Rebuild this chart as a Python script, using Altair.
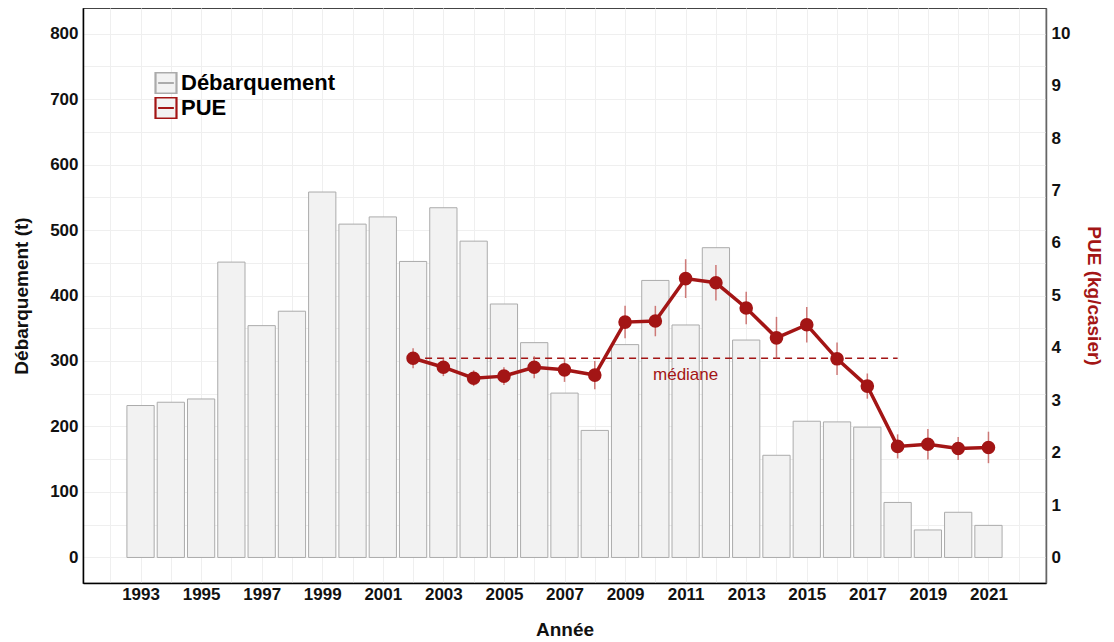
import altair as alt
import pandas as pd

years = list(range(1993, 2022))
landings = [232, 237, 242, 451, 354, 376, 558, 509, 520, 452, 534, 483, 387, 328,
            251, 194, 325, 423, 355, 473, 332, 156, 208, 207, 199, 84, 42, 69, 49]

pue_years = list(range(2002, 2022))
pue = [3.80, 3.63, 3.42, 3.46, 3.63, 3.58, 3.48, 4.49, 4.51, 5.32, 5.24, 4.76,
       4.19, 4.44, 3.79, 3.27, 2.12, 2.16, 2.08, 2.10]
pue_err = [0.19, 0.17, 0.15, 0.17, 0.21, 0.23, 0.27, 0.31, 0.29, 0.37, 0.34, 0.31,
           0.40, 0.34, 0.31, 0.24, 0.23, 0.29, 0.22, 0.30]

median_start = 2002
median_end = 2018
median_value = 3.80
median_label = "médiane"
median_label_year = 2011
median_label_value = 3.48

series_names = ["Débarquement", "PUE"]
series_colors = ["#ababab", "#a31515"]

RED = "#a31515"
FONT = "Liberation Sans"

bars_df = pd.DataFrame({"year": years, "landings": landings, "serie": "Débarquement"})
pue_df = pd.DataFrame({"year": pue_years, "pue": pue, "err": pue_err, "serie": "PUE"})
med_df = pd.DataFrame({"year": [median_start], "x2": [median_end], "pue": [median_value]})
lab_df = pd.DataFrame({"year": [median_label_year], "pue": [median_label_value], "t": [median_label]})

x_dom = [1991.1, 2022.9]
all_years = list(range(1992, 2023))

x_scale = alt.Scale(domain=x_dom, nice=False, zero=False)
x_axis = alt.Axis(values=all_years, labelExpr="datum.value % 2 == 1 ? datum.label : ''",
                  format="d", title="Année", grid=True, ticks=False,
                  domainColor="#000000", domainWidth=1.5, labelPadding=3,
                  titlePadding=18)

y_right_scale = alt.Scale(domain=[-0.485, 10.48], nice=False, zero=False)
y_right_axis = alt.Axis(values=list(range(0, 11)), title="PUE (kg/casier)", orient="right",
                        grid=False, ticks=False, domainColor="#666666", domainWidth=1.5,
                        titleColor=RED, labelPadding=5, titlePadding=14)

stroke_scale = alt.Scale(domain=series_names, range=series_colors)
legend = alt.Legend(
    title=None, orient="none", legendX=71, legendY=64,
    symbolType="M-1,-1H1V1H-1Z M-0.75,0H0.75",
    symbolSize=441, symbolStrokeWidth=2.2, symbolFillColor="#f4f4f4",
    labelFontSize=22, labelFontWeight="bold", labelColor="#000000", labelFont=FONT,
    rowPadding=3, labelOffset=3, clipHeight=22,
)

bars = alt.Chart(bars_df).transform_calculate(
    x0="datum.year - 0.45", x1="datum.year + 0.45"
).mark_bar(fill="#f2f2f2", strokeWidth=1).encode(
    x=alt.X("x0:Q", scale=x_scale, axis=x_axis),
    x2="x1:Q",
    y=alt.Y("landings:Q",
            scale=alt.Scale(domain=[-39, 839], nice=False, zero=False),
            axis=alt.Axis(values=list(range(0, 801, 50)),
                          labelExpr="datum.value % 100 == 0 ? datum.label : ''",
                          title="Débarquement (t)", grid=True, ticks=False,
                          domainColor="#000000", domainWidth=1.5, orient="left",
                          labelPadding=5, titlePadding=18)),
    y2=alt.datum(0),
    stroke=alt.Stroke("serie:N", scale=stroke_scale, legend=legend),
)

x_enc = alt.X("year:Q", scale=x_scale, axis=x_axis)
y_enc = alt.Y("pue:Q", scale=y_right_scale, axis=y_right_axis)

median = alt.Chart(med_df).mark_rule(color=RED, strokeWidth=1.6, strokeDash=[7, 5]).encode(
    x=x_enc, x2="x2:Q", y=y_enc,
)

errs = alt.Chart(pue_df).transform_calculate(
    lo="datum.pue - datum.err", hi="datum.pue + datum.err"
).mark_rule(color="#c0504d", strokeWidth=1.5, opacity=0.75).encode(
    x=x_enc, y=alt.Y("lo:Q", scale=y_right_scale, axis=y_right_axis), y2="hi:Q",
)

line = alt.Chart(pue_df).mark_line(strokeWidth=3.5).encode(
    x=x_enc, y=y_enc,
    stroke=alt.Stroke("serie:N", scale=stroke_scale, legend=legend),
)

points = alt.Chart(pue_df).mark_circle(color=RED, size=185, opacity=1).encode(
    x=x_enc, y=y_enc,
)

label = alt.Chart(lab_df).mark_text(color=RED, fontSize=17, font=FONT, align="center",
                                     baseline="middle").encode(
    x=x_enc, y=y_enc, text="t:N",
)

right = alt.layer(median, errs, line, points, label)

chart = alt.layer(bars, right).resolve_scale(y="independent", stroke="shared").properties(
    width=963, height=575,
    autosize=alt.AutoSizeParams(type="none"),
    padding={"left": 75, "top": 0, "right": 60, "bottom": 55},
    background="white",
).configure_view(
    stroke="#444444", strokeWidth=1.2
).configure_axis(
    labelFont=FONT, labelFontSize=17, labelFontWeight="bold", labelColor="#111111",
    titleFont=FONT, titleFontSize=19, titleFontWeight="bold", titleColor="#111111",
    gridColor="#efefef", gridWidth=1,
)

chart.save("out.html", embed_options={"renderer": "svg", "actions": False})
